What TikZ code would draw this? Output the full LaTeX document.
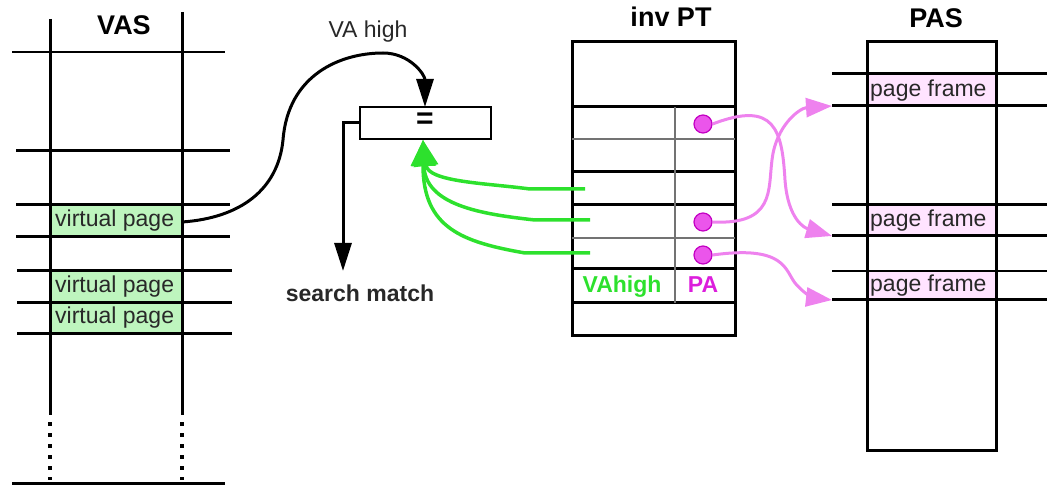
\documentclass[tikz,border=0pt]{standalone}
\usepackage{fontspec}
\setmainfont{Liberation Sans}
\usetikzlibrary{arrows.meta}
\definecolor{vpgreen}{RGB}{190,245,190}
\definecolor{pfpink}{RGB}{255,228,255}
\definecolor{lgreen}{RGB}{45,225,45}
\definecolor{violetline}{RGB}{238,130,238}
\definecolor{dotfill}{RGB}{235,85,235}
\definecolor{dotline}{RGB}{195,0,195}
\definecolor{pamag}{RGB}{220,30,220}
\definecolor{txtgray}{RGB}{40,40,40}
\tikzset{
  thickline/.style={line width=3pt, black},
  thinline/.style={line width=2pt, black},
  grayline/.style={line width=2pt, black!55},
  lbl/.style={font=\fontsize{23}{25}\selectfont, text=txtgray, inner sep=0pt},
  boldlbl/.style={font=\fontsize{23}{25}\selectfont\bfseries, inner sep=0pt},
  ttl/.style={font=\fontsize{27}{29}\selectfont\bfseries, inner sep=0pt},
  pdot/.style={circle, minimum size=18pt, inner sep=0pt, fill=dotfill, draw=dotline, line width=1.2pt},
  blackarrow/.style={line width=3pt, -{Triangle[length=28pt,width=17pt]}},
  greenarrow/.style={line width=3.5pt, lgreen, -{Triangle[length=26pt,width=24pt]}},
  pinkarrow/.style={line width=3pt, violetline, -{Triangle[length=26pt,width=19pt]}},
  dotsline/.style={line width=3.5pt, dash pattern=on 4pt off 7pt}
}
\begin{document}
\begin{tikzpicture}[x=1pt,y=-1pt]
\useasboundingbox (0,0) rectangle (1050,486);

% ---------- virtual address space ----------
\fill[vpgreen] (50,205) rectangle (182,237);
\fill[vpgreen] (50,271) rectangle (182,334);
\draw[thickline] (50,19) -- (50,415);
\draw[thickline] (182,12) -- (182,415);
\draw[dotsline] (50,422) -- (50,480);
\draw[dotsline] (182,422) -- (182,480);
\draw[thinline] (12,52) -- (225,52);
\draw[thickline] (16,151) -- (230,151);
\draw[thickline] (16,205) -- (230,205);
\draw[thickline] (16,237) -- (230,237);
\draw[thickline] (17,271) -- (232,271);
\draw[thickline] (17,303) -- (232,303);
\draw[thickline] (17,334) -- (232,334);
\draw[thickline] (12,483) -- (225,483);
\node[ttl, anchor=base] (vas) at (124,35) {VAS};
\node[lbl, anchor=base west] (vp1) at (55,227) {virtual page};
\node[lbl, anchor=base west] (vp2) at (55,293) {virtual page};
\node[lbl, anchor=base west] (vp3) at (55,324) {virtual page};
\coordinate (vp1out) at (182,222);

% ---------- comparator ----------
\draw[line width=2.5pt] (360,107) rectangle (491,139);
\node[font=\fontsize{30}{30}\selectfont\bfseries, inner sep=0pt] (eq) at (425,121) {=};
\coordinate (cmptop) at (425,107);
\coordinate (cmpbot) at (423,140);
\coordinate (cmpleft) at (360,123);
\coordinate (matchend) at (343,271);
\node[lbl, anchor=base] (vahigh) at (368,38) {VA high};
\node[boldlbl, anchor=base, text=txtgray] (match) at (360,302) {search match};

\draw[blackarrow] (vp1out) .. controls (240,218) and (278,190) .. (283,140)
   .. controls (288,75) and (340,53) .. (383,53)
   .. controls (410,53) and (425,75) .. (cmptop);
\draw[blackarrow] (cmpleft) -- (343,123) -- (matchend);

% ---------- inverted page table ----------
\draw[thickline] (572,42) rectangle (735,336);
\draw[thickline] (572,107) -- (735,107);
\draw[grayline]  (572,139) -- (735,139);
\draw[thickline] (572,172) -- (735,172);
\draw[thickline] (572,205) -- (735,205);
\draw[grayline]  (572,238) -- (735,238);
\draw[thickline] (572,269) -- (735,269);
\draw[thickline] (572,303) -- (735,303);
\draw[grayline]  (675,107) -- (675,303);
\node[ttl, anchor=base] (ipt) at (671,27) {inv PT};
\node[boldlbl, anchor=base, text=lgreen] (vah) at (622,293) {VAhigh};
\node[boldlbl, anchor=base, text=pamag] (pa) at (703,293) {PA};
\node[pdot] (d1) at (703,124) {};
\node[pdot] (d2) at (703,222) {};
\node[pdot] (d3) at (703,255) {};
\coordinate (r1) at (585,189);
\coordinate (r2) at (590,220);
\coordinate (r3) at (590,253);

% entries compared against the high address bits
\draw[greenarrow] (r1) -- (530,189) .. controls (485,183) and (428,182) .. (cmpbot);
\draw[greenarrow] (r2) -- (535,220) .. controls (480,214) and (425,205) .. (cmpbot);
\draw[greenarrow] (r3) -- (525,253) .. controls (462,242) and (423,228) .. (cmpbot);

% ---------- physical address space ----------
\fill[pfpink] (867,74) rectangle (996,106);
\fill[pfpink] (867,205) rectangle (996,236);
\fill[pfpink] (867,271) rectangle (996,300);
\draw[thickline] (867,42) rectangle (996,450);
\draw[thickline] (832,74) -- (1047,74);
\draw[thickline] (832,106) -- (1047,106);
\draw[thickline] (832,205) -- (1047,205);
\draw[thickline] (832,236) -- (1047,236);
\draw[thinline]  (832,271) -- (1047,271);
\draw[thickline] (832,300) -- (1047,300);
\node[ttl, anchor=base] (pas) at (936,28) {PAS};
\node[lbl, anchor=base west] (pf1) at (870,97) {page frame};
\node[lbl, anchor=base west] (pf2) at (870,227) {page frame};
\node[lbl, anchor=base west] (pf3) at (870,292) {page frame};
\coordinate (f1) at (832,106);
\coordinate (f2) at (832,236);
\coordinate (f3) at (832,300);

\draw[pinkarrow] (d1.east) .. controls (775,100) and (782,130) .. (785,180)
   .. controls (788,220) and (805,228) .. (f2);
\draw[pinkarrow] (d2.east) .. controls (775,225) and (768,190) .. (772,160)
   .. controls (776,125) and (800,108) .. (f1);
\draw[pinkarrow] (d3.east) .. controls (785,245) and (785,270) .. (795,283)
   .. controls (805,295) and (815,298) .. (f3);
\end{tikzpicture}
\end{document}
